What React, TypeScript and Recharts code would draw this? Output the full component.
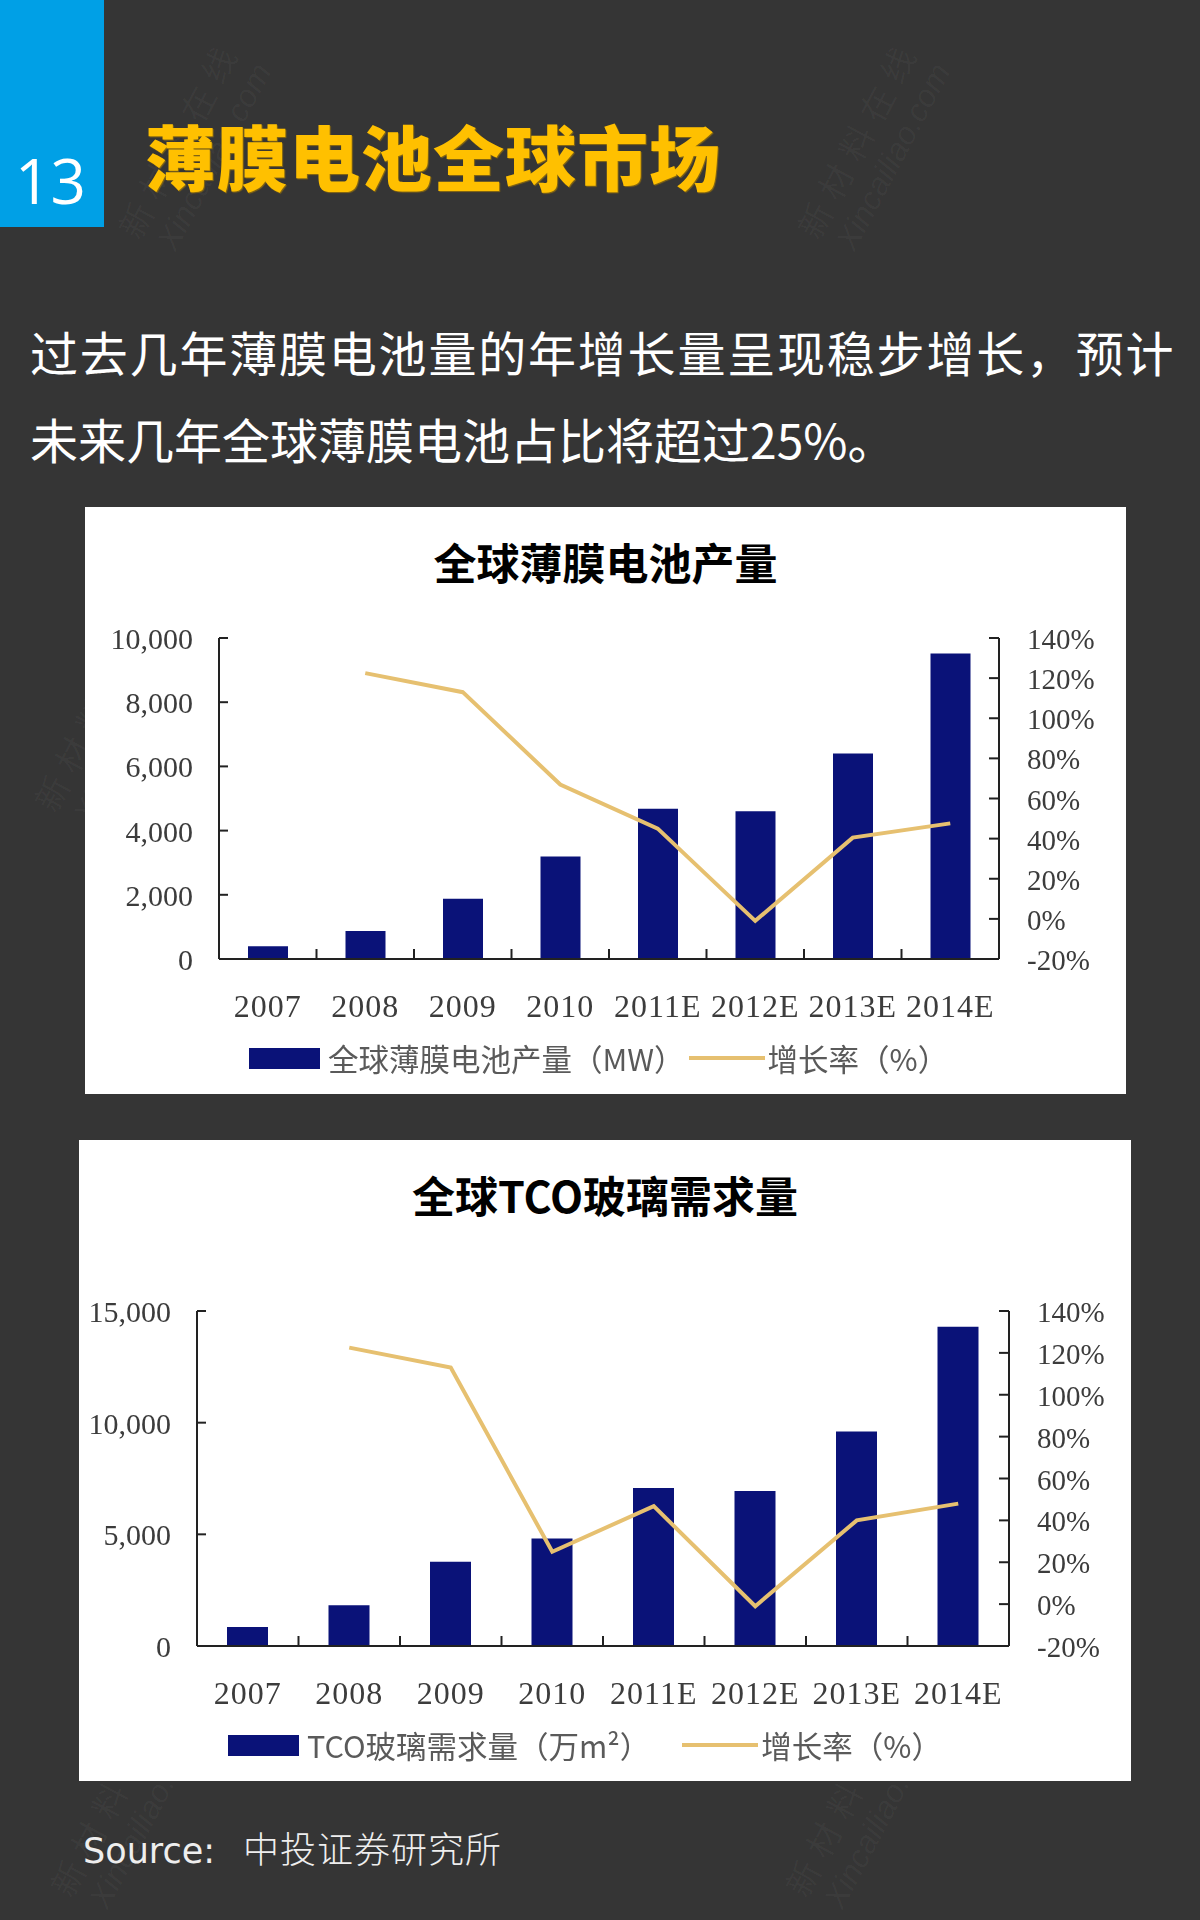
import { Bar, ComposedChart, Legend, Line, XAxis, YAxis } from 'recharts';

const years = ['2007', '2008', '2009', '2010', '2011E', '2012E', '2013E', '2014E'];
const filmOutput = [400, 870, 1880, 3190, 4680, 4600, 6400, 9520];
const filmGrowth = [null, 122.5, 113, 67, 45, -1, 40.5, 47.6];
const tcoDemand = [850, 1830, 3770, 4810, 7075, 6940, 9600, 14300];
const tcoGrowth = [null, 122.5, 113, 25, 46.8, -1, 40, 48];
const filmTicks = [0, 2000, 4000, 6000, 8000, 10000];
const tcoTicks = [0, 5000, 10000, 15000];
const growthTicks = [-20, 0, 20, 40, 60, 80, 100, 120, 140];

const NAVY = '#0a1278';
const GOLD = '#e6c070';
const AXIS = '#222';
const LABEL = '#3c3c3c';
const SERIF = '"Liberation Serif", serif';
const CJK = '"Noto Sans CJK SC", sans-serif';

const leftTick = ({ x, y, payload }: any) => (
  <g>
    <line x1={x} x2={x + 9} y1={y} y2={y} stroke={AXIS} strokeWidth={2} />
    <text x={x - 26} y={y + 11} textAnchor="end" fontFamily={SERIF} fontSize={30} fill={LABEL}>
      {payload.value.toLocaleString('en-US')}
    </text>
  </g>
);

const rightTick = ({ x, y, payload }: any) => (
  <g>
    <line x1={x} x2={x - 10} y1={y} y2={y} stroke={AXIS} strokeWidth={2} />
    <text x={x + 28} y={y + 11} fontFamily={SERIF} fontSize={29} fill={LABEL}>
      {payload.value}%
    </text>
  </g>
);

// year label under the band, tick mark on the band's left edge
const yearTick = (band: number) => ({ x, y, payload, index }: any) => (
  <g>
    {index > 0 && <line x1={x - band / 2} x2={x - band / 2} y1={y} y2={y - 10} stroke={AXIS} strokeWidth={2} />}
    <text x={x} y={y + 58} textAnchor="middle" fontFamily={SERIF} fontSize={32} letterSpacing={1} fill={LABEL}>
      {payload.value}
    </text>
  </g>
);

const legendContent = (padLeft: number, gap: number) => ({ payload }: any) => (
  <div style={{ display: 'flex', alignItems: 'center', height: 50, paddingLeft: padLeft, fontFamily: CJK, fontSize: 30.5, color: '#5a5a5a', whiteSpace: 'nowrap' }}>
    {payload.map((item: any, i: number) => (
      <div key={item.value} style={{ display: 'flex', alignItems: 'center', marginRight: gap }}>
        {i === 0 ? (
          <div style={{ width: 71, height: 21, background: NAVY, marginRight: 8 }} />
        ) : (
          <div style={{ width: 76, height: 4, background: GOLD, marginRight: 3 }} />
        )}
        <span>{item.value}</span>
      </div>
    ))}
  </div>
);

function ProductionChart({ amounts, growth, name, ticks, max, width, height, left, right, top, barSize, padLeft, gap }: any) {
  const band = (width - left - right) / years.length;
  const rows = years.map((year, i) => ({ year, amount: amounts[i], growth: growth[i] }));
  return (
    <ComposedChart width={width} height={height} data={rows} margin={{ top, right: right - 60, left: left - 60, bottom: 11 }}>
      <XAxis
        dataKey="year"
        height={74}
        interval={0}
        tickSize={0}
        tickMargin={0}
        tickLine={false}
        axisLine={{ stroke: AXIS, strokeWidth: 2 }}
        tick={yearTick(band)}
      />
      <YAxis
        yAxisId="left"
        width={60}
        domain={[0, max]}
        ticks={ticks}
        interval={0}
        tickSize={0}
        tickMargin={0}
        tickLine={false}
        axisLine={{ stroke: AXIS, strokeWidth: 2 }}
        tick={leftTick}
      />
      <YAxis
        yAxisId="right"
        orientation="right"
        width={60}
        domain={[-20, 140]}
        ticks={growthTicks}
        interval={0}
        tickSize={0}
        tickMargin={0}
        tickLine={false}
        axisLine={{ stroke: AXIS, strokeWidth: 2 }}
        tick={rightTick}
      />
      <Bar yAxisId="left" dataKey="amount" name={name} fill={NAVY} barSize={barSize} isAnimationActive={false} />
      <Line
        yAxisId="right"
        dataKey="growth"
        name="增长率（%）"
        stroke={GOLD}
        strokeWidth={4}
        dot={false}
        connectNulls={false}
        isAnimationActive={false}
      />
      <Legend verticalAlign="bottom" height={50} content={legendContent(padLeft, gap)} />
    </ComposedChart>
  );
}

const box = (left: number, top: number, width: number, height: number, extra: any = {}) => ({
  position: 'absolute' as const,
  left,
  top,
  width,
  height,
  ...extra,
});

function Watermark({ x, y }: { x: number; y: number }) {
  return (
    <div
      style={{
        position: 'absolute',
        left: x,
        top: y,
        transform: 'translate(-50%, -50%) rotate(-62deg)',
        color: 'rgba(255,255,255,0.035)',
        fontFamily: CJK,
        lineHeight: 1.2,
        textAlign: 'center',
        whiteSpace: 'nowrap',
      }}
    >
      <div style={{ fontSize: 34, letterSpacing: 10 }}>新材料在线</div>
      <div style={{ fontSize: 32, fontStyle: 'italic', fontFamily: '"Liberation Sans", sans-serif' }}>Xincailiao.com</div>
    </div>
  );
}

export default function App() {
  return (
    <div style={box(0, 0, 1200, 1920, { background: '#353535', overflow: 'hidden' })}>
      <style>{'body{margin:0}'}</style>
      <Watermark x={196} y={147} />
      <Watermark x={875} y={147} />
      <Watermark x={112} y={720} />
      <Watermark x={128} y={1805} />
      <Watermark x={863} y={1805} />

      <div style={box(0, 0, 104, 227, { background: '#00a0e6' })} />
      <div style={box(15, 145, 90, 70, { color: '#fff', fontFamily: '"Open Sans", sans-serif', fontSize: 62, lineHeight: '70px' })}>13</div>
      <div style={box(145, 114, 700, 80, { color: '#ffc000', fontFamily: CJK, fontWeight: 900, fontSize: 71, lineHeight: '80px', letterSpacing: 1, textShadow: '1px 1px 1px #8a6a10' })}>
        薄膜电池全球市场
      </div>

      <div style={box(30, 308, 1170, 180, { color: '#fff', fontFamily: CJK, fontSize: 48, lineHeight: '87px', whiteSpace: 'nowrap' })}>
        <span style={{ letterSpacing: 1.8 }}>过去几年薄膜电池量的年增长量呈现稳步增长，预计</span>
        <br />
        未来几年全球薄膜电池占比将超过25%。
      </div>

      <div style={box(85, 507, 1041, 587, { background: '#fff' })} />
      <div style={box(85, 533, 1041, 56, { textAlign: 'center', color: '#000', fontFamily: CJK, fontWeight: 700, fontSize: 43, lineHeight: '56px' })}>
        全球薄膜电池产量
      </div>
      <div style={box(85, 607, 1041, 487, { filter: 'blur(0.5px)' })}>
        <ProductionChart
          amounts={filmOutput}
          growth={filmGrowth}
          name="全球薄膜电池产量（MW）"
          ticks={filmTicks}
          max={10000}
          width={1041}
          height={487}
          left={134}
          right={127}
          top={31}
          barSize={40}
          padLeft={90}
          gap={4}
        />
      </div>

      <div style={box(79, 1140, 1052, 641, { background: '#fff' })} />
      <div style={box(79, 1166, 1052, 56, { textAlign: 'center', color: '#000', fontFamily: CJK, fontWeight: 700, fontSize: 43, lineHeight: '56px' })}>
        全球TCO玻璃需求量
      </div>
      <div style={box(79, 1240, 1052, 541, { filter: 'blur(0.5px)' })}>
        <ProductionChart
          amounts={tcoDemand}
          growth={tcoGrowth}
          name="TCO玻璃需求量（万m²）"
          ticks={tcoTicks}
          max={15000}
          width={1052}
          height={541}
          left={118}
          right={122}
          top={71}
          barSize={41}
          padLeft={91}
          gap={32}
        />
      </div>

      <div style={box(83, 1822, 600, 50, { color: '#eee', fontFamily: '"DejaVu Sans", sans-serif', fontSize: 35, lineHeight: '50px', whiteSpace: 'nowrap' })}>
        Source:<span style={{ fontFamily: CJK, fontSize: 36, fontWeight: 300, marginLeft: 28, letterSpacing: 1 }}>中投证券研究所</span>
      </div>
    </div>
  );
}
